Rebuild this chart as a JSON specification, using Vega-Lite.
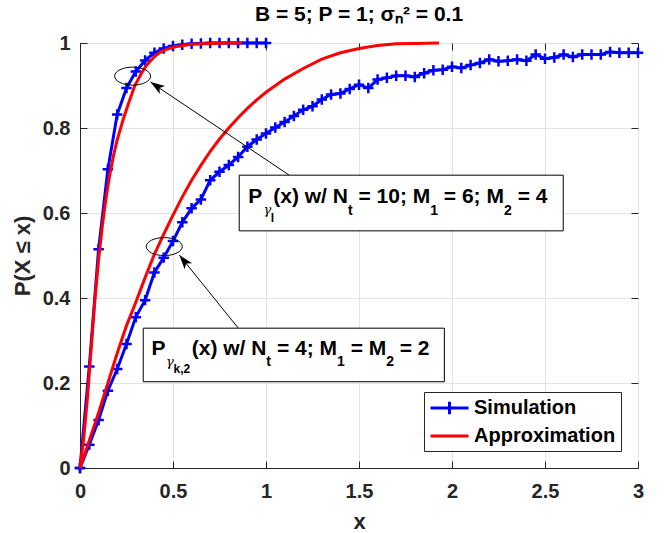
{
  "$schema": "https://vega.github.io/schema/vega-lite/v6.json",
  "width": 558,
  "height": 425,
  "autosize": {"type": "none"},
  "padding": {"left": 80, "top": 43, "right": 33, "bottom": 65},
  "background": "white",
  "config": {
    "font": "Liberation Sans",
    "view": {"stroke": "#262626", "strokeWidth": 1},
    "legend": {
      "orient": "bottom-right", "offset": 17, "title": null,
      "symbolSize": 361, "symbolStrokeWidth": 3,
      "labelFont": "Liberation Sans", "labelFontSize": 20, "labelFontWeight": "bold", "labelColor": "#000000",
      "labelLimit": 300, "padding": 5, "rowPadding": 4, "labelOffset": 23,
      "strokeColor": "#262626", "fillColor": "white"
    }
  },
  "title": {
    "text": "B = 5; P = 1; σₙ² = 0.1",
    "font": "Liberation Sans", "fontSize": 21, "fontWeight": "bold", "color": "#000000",
    "anchor": "middle", "offset": 8
  },
  "datasets": {
    "curves": [
      {"curve": "s1", "series": "Simulation", "x": 0, "y": 0},
      {"curve": "s1", "series": "Simulation", "x": 0.05, "y": 0.239},
      {"curve": "s1", "series": "Simulation", "x": 0.1, "y": 0.515},
      {"curve": "s1", "series": "Simulation", "x": 0.15, "y": 0.703},
      {"curve": "s1", "series": "Simulation", "x": 0.2, "y": 0.832},
      {"curve": "s1", "series": "Simulation", "x": 0.25, "y": 0.894},
      {"curve": "s1", "series": "Simulation", "x": 0.3, "y": 0.933},
      {"curve": "s1", "series": "Simulation", "x": 0.35, "y": 0.959},
      {"curve": "s1", "series": "Simulation", "x": 0.4, "y": 0.977},
      {"curve": "s1", "series": "Simulation", "x": 0.45, "y": 0.987},
      {"curve": "s1", "series": "Simulation", "x": 0.5, "y": 0.993},
      {"curve": "s1", "series": "Simulation", "x": 0.55, "y": 0.996},
      {"curve": "s1", "series": "Simulation", "x": 0.6, "y": 0.998},
      {"curve": "s1", "series": "Simulation", "x": 0.65, "y": 0.999},
      {"curve": "s1", "series": "Simulation", "x": 0.7, "y": 1},
      {"curve": "s1", "series": "Simulation", "x": 0.75, "y": 1},
      {"curve": "s1", "series": "Simulation", "x": 0.8, "y": 1},
      {"curve": "s1", "series": "Simulation", "x": 0.85, "y": 1},
      {"curve": "s1", "series": "Simulation", "x": 0.9, "y": 1},
      {"curve": "s1", "series": "Simulation", "x": 0.95, "y": 1},
      {"curve": "s1", "series": "Simulation", "x": 1.0, "y": 1},
      {"curve": "s2", "series": "Simulation", "x": 0, "y": 0},
      {"curve": "s2", "series": "Simulation", "x": 0.05, "y": 0.055},
      {"curve": "s2", "series": "Simulation", "x": 0.1, "y": 0.113},
      {"curve": "s2", "series": "Simulation", "x": 0.15, "y": 0.182},
      {"curve": "s2", "series": "Simulation", "x": 0.2, "y": 0.233},
      {"curve": "s2", "series": "Simulation", "x": 0.25, "y": 0.292},
      {"curve": "s2", "series": "Simulation", "x": 0.3, "y": 0.355},
      {"curve": "s2", "series": "Simulation", "x": 0.35, "y": 0.395},
      {"curve": "s2", "series": "Simulation", "x": 0.4, "y": 0.46},
      {"curve": "s2", "series": "Simulation", "x": 0.45, "y": 0.495},
      {"curve": "s2", "series": "Simulation", "x": 0.5, "y": 0.534},
      {"curve": "s2", "series": "Simulation", "x": 0.55, "y": 0.578},
      {"curve": "s2", "series": "Simulation", "x": 0.6, "y": 0.611},
      {"curve": "s2", "series": "Simulation", "x": 0.65, "y": 0.632},
      {"curve": "s2", "series": "Simulation", "x": 0.7, "y": 0.677},
      {"curve": "s2", "series": "Simulation", "x": 0.75, "y": 0.697},
      {"curve": "s2", "series": "Simulation", "x": 0.8, "y": 0.713},
      {"curve": "s2", "series": "Simulation", "x": 0.85, "y": 0.732},
      {"curve": "s2", "series": "Simulation", "x": 0.9, "y": 0.756},
      {"curve": "s2", "series": "Simulation", "x": 0.95, "y": 0.773},
      {"curve": "s2", "series": "Simulation", "x": 1.0, "y": 0.787},
      {"curve": "s2", "series": "Simulation", "x": 1.05, "y": 0.801},
      {"curve": "s2", "series": "Simulation", "x": 1.1, "y": 0.814},
      {"curve": "s2", "series": "Simulation", "x": 1.15, "y": 0.828},
      {"curve": "s2", "series": "Simulation", "x": 1.2, "y": 0.843},
      {"curve": "s2", "series": "Simulation", "x": 1.25, "y": 0.851},
      {"curve": "s2", "series": "Simulation", "x": 1.3, "y": 0.867},
      {"curve": "s2", "series": "Simulation", "x": 1.35, "y": 0.879},
      {"curve": "s2", "series": "Simulation", "x": 1.4, "y": 0.881},
      {"curve": "s2", "series": "Simulation", "x": 1.45, "y": 0.892},
      {"curve": "s2", "series": "Simulation", "x": 1.5, "y": 0.902},
      {"curve": "s2", "series": "Simulation", "x": 1.55, "y": 0.894},
      {"curve": "s2", "series": "Simulation", "x": 1.6, "y": 0.914},
      {"curve": "s2", "series": "Simulation", "x": 1.65, "y": 0.918},
      {"curve": "s2", "series": "Simulation", "x": 1.7, "y": 0.923},
      {"curve": "s2", "series": "Simulation", "x": 1.75, "y": 0.923},
      {"curve": "s2", "series": "Simulation", "x": 1.8, "y": 0.92},
      {"curve": "s2", "series": "Simulation", "x": 1.85, "y": 0.929},
      {"curve": "s2", "series": "Simulation", "x": 1.9, "y": 0.936},
      {"curve": "s2", "series": "Simulation", "x": 1.95, "y": 0.937},
      {"curve": "s2", "series": "Simulation", "x": 2.0, "y": 0.944},
      {"curve": "s2", "series": "Simulation", "x": 2.05, "y": 0.941},
      {"curve": "s2", "series": "Simulation", "x": 2.1, "y": 0.948},
      {"curve": "s2", "series": "Simulation", "x": 2.15, "y": 0.953},
      {"curve": "s2", "series": "Simulation", "x": 2.2, "y": 0.961},
      {"curve": "s2", "series": "Simulation", "x": 2.25, "y": 0.957},
      {"curve": "s2", "series": "Simulation", "x": 2.3, "y": 0.958},
      {"curve": "s2", "series": "Simulation", "x": 2.35, "y": 0.961},
      {"curve": "s2", "series": "Simulation", "x": 2.4, "y": 0.958},
      {"curve": "s2", "series": "Simulation", "x": 2.45, "y": 0.973},
      {"curve": "s2", "series": "Simulation", "x": 2.5, "y": 0.963},
      {"curve": "s2", "series": "Simulation", "x": 2.55, "y": 0.966},
      {"curve": "s2", "series": "Simulation", "x": 2.6, "y": 0.973},
      {"curve": "s2", "series": "Simulation", "x": 2.65, "y": 0.967},
      {"curve": "s2", "series": "Simulation", "x": 2.7, "y": 0.973},
      {"curve": "s2", "series": "Simulation", "x": 2.75, "y": 0.973},
      {"curve": "s2", "series": "Simulation", "x": 2.8, "y": 0.973},
      {"curve": "s2", "series": "Simulation", "x": 2.85, "y": 0.979},
      {"curve": "s2", "series": "Simulation", "x": 2.9, "y": 0.977},
      {"curve": "s2", "series": "Simulation", "x": 2.95, "y": 0.977},
      {"curve": "s2", "series": "Simulation", "x": 3.0, "y": 0.977},
      {"curve": "a1", "series": "Approximation", "x": 0, "y": 0},
      {"curve": "a1", "series": "Approximation", "x": 0.02, "y": 0.07},
      {"curve": "a1", "series": "Approximation", "x": 0.04, "y": 0.165},
      {"curve": "a1", "series": "Approximation", "x": 0.06, "y": 0.28},
      {"curve": "a1", "series": "Approximation", "x": 0.08, "y": 0.395},
      {"curve": "a1", "series": "Approximation", "x": 0.1, "y": 0.49},
      {"curve": "a1", "series": "Approximation", "x": 0.12, "y": 0.57},
      {"curve": "a1", "series": "Approximation", "x": 0.14, "y": 0.635},
      {"curve": "a1", "series": "Approximation", "x": 0.16, "y": 0.69},
      {"curve": "a1", "series": "Approximation", "x": 0.18, "y": 0.735},
      {"curve": "a1", "series": "Approximation", "x": 0.2, "y": 0.772},
      {"curve": "a1", "series": "Approximation", "x": 0.232, "y": 0.82},
      {"curve": "a1", "series": "Approximation", "x": 0.26, "y": 0.857},
      {"curve": "a1", "series": "Approximation", "x": 0.295, "y": 0.9},
      {"curve": "a1", "series": "Approximation", "x": 0.33, "y": 0.929},
      {"curve": "a1", "series": "Approximation", "x": 0.357, "y": 0.947},
      {"curve": "a1", "series": "Approximation", "x": 0.4, "y": 0.968},
      {"curve": "a1", "series": "Approximation", "x": 0.43, "y": 0.978},
      {"curve": "a1", "series": "Approximation", "x": 0.47, "y": 0.986},
      {"curve": "a1", "series": "Approximation", "x": 0.52, "y": 0.992},
      {"curve": "a1", "series": "Approximation", "x": 0.6, "y": 0.997},
      {"curve": "a1", "series": "Approximation", "x": 0.7, "y": 0.999},
      {"curve": "a1", "series": "Approximation", "x": 0.8, "y": 1},
      {"curve": "a1", "series": "Approximation", "x": 0.87, "y": 1},
      {"curve": "a2", "series": "Approximation", "x": 0, "y": 0},
      {"curve": "a2", "series": "Approximation", "x": 0.05, "y": 0.065},
      {"curve": "a2", "series": "Approximation", "x": 0.1, "y": 0.13},
      {"curve": "a2", "series": "Approximation", "x": 0.15, "y": 0.2},
      {"curve": "a2", "series": "Approximation", "x": 0.2, "y": 0.27},
      {"curve": "a2", "series": "Approximation", "x": 0.25, "y": 0.335},
      {"curve": "a2", "series": "Approximation", "x": 0.3, "y": 0.39},
      {"curve": "a2", "series": "Approximation", "x": 0.35, "y": 0.448},
      {"curve": "a2", "series": "Approximation", "x": 0.4, "y": 0.503},
      {"curve": "a2", "series": "Approximation", "x": 0.45, "y": 0.55},
      {"curve": "a2", "series": "Approximation", "x": 0.5, "y": 0.595},
      {"curve": "a2", "series": "Approximation", "x": 0.55, "y": 0.638},
      {"curve": "a2", "series": "Approximation", "x": 0.6, "y": 0.677},
      {"curve": "a2", "series": "Approximation", "x": 0.65, "y": 0.712},
      {"curve": "a2", "series": "Approximation", "x": 0.7, "y": 0.745},
      {"curve": "a2", "series": "Approximation", "x": 0.75, "y": 0.774},
      {"curve": "a2", "series": "Approximation", "x": 0.8, "y": 0.8},
      {"curve": "a2", "series": "Approximation", "x": 0.85, "y": 0.824},
      {"curve": "a2", "series": "Approximation", "x": 0.9, "y": 0.846},
      {"curve": "a2", "series": "Approximation", "x": 0.95, "y": 0.866},
      {"curve": "a2", "series": "Approximation", "x": 1.0, "y": 0.884},
      {"curve": "a2", "series": "Approximation", "x": 1.1, "y": 0.915},
      {"curve": "a2", "series": "Approximation", "x": 1.2, "y": 0.94},
      {"curve": "a2", "series": "Approximation", "x": 1.3, "y": 0.962},
      {"curve": "a2", "series": "Approximation", "x": 1.4, "y": 0.977},
      {"curve": "a2", "series": "Approximation", "x": 1.5, "y": 0.987},
      {"curve": "a2", "series": "Approximation", "x": 1.6, "y": 0.994},
      {"curve": "a2", "series": "Approximation", "x": 1.7, "y": 0.998},
      {"curve": "a2", "series": "Approximation", "x": 1.8, "y": 0.999},
      {"curve": "a2", "series": "Approximation", "x": 1.93, "y": 1}
    ],
    "ellipses": [
      {"x": 0.283, "y": 0.922},
      {"x": 0.453, "y": 0.521}
    ],
    "arrows": [
      {"x": 1.125, "y": 0.689, "x2": 0.379, "y2": 0.908, "angle": 303.8},
      {"x": 0.851, "y": 0.329, "x2": 0.534, "y2": 0.501, "angle": 321.2}
    ],
    "boxes": [
      {"x": 0.856, "x2": 2.598, "y": 0.689, "y2": 0.558},
      {"x": 0.34, "x2": 1.959, "y": 0.329, "y2": 0.203}
    ],
    "labels": [
      {"level": "main", "text": "P", "x": 0.905, "y": 0.623},
      {"level": "gamma", "text": "γ", "x": 0.987, "y": 0.597},
      {"level": "subsub", "text": "l", "x": 1.025, "y": 0.58},
      {"level": "main", "text": "(x) w/ N", "x": 1.039, "y": 0.623},
      {"level": "sub", "text": "t", "x": 1.441, "y": 0.596},
      {"level": "main", "text": "= 10; M", "x": 1.497, "y": 0.623},
      {"level": "sub", "text": "1", "x": 1.883, "y": 0.596},
      {"level": "main", "text": "= 6; M", "x": 1.956, "y": 0.623},
      {"level": "sub", "text": "2", "x": 2.28, "y": 0.596},
      {"level": "main", "text": "= 4", "x": 2.353, "y": 0.623},
      {"level": "main", "text": "P", "x": 0.385, "y": 0.266},
      {"level": "gamma", "text": "γ", "x": 0.462, "y": 0.24},
      {"level": "subsub", "text": "k,2", "x": 0.503, "y": 0.223},
      {"level": "main", "text": "(x) w/ N", "x": 0.601, "y": 0.266},
      {"level": "sub", "text": "t", "x": 1.002, "y": 0.239},
      {"level": "main", "text": "= 4; M", "x": 1.059, "y": 0.266},
      {"level": "sub", "text": "1", "x": 1.382, "y": 0.239},
      {"level": "main", "text": "= M", "x": 1.455, "y": 0.266},
      {"level": "sub", "text": "2", "x": 1.646, "y": 0.239},
      {"level": "main", "text": "= 2", "x": 1.719, "y": 0.266}
    ]
  },
  "resolve": {"axis": {"x": "independent", "y": "independent"}},
  "layer": [
    {
      "data": {"name": "curves"},
      "transform": [{"filter": "datum.series === 'Simulation'"}],
      "mark": {"type": "line", "strokeWidth": 3},
      "encoding": {
        "x": {
          "field": "x", "type": "quantitative",
          "scale": {"domain": [0, 3], "nice": false, "zero": false},
          "axis": {
            "values": [0, 0.5, 1, 1.5, 2, 2.5, 3], "format": "~g", "title": "x",
            "grid": true, "gridColor": "#e3e3e3", "gridWidth": 1,
            "domainColor": "#262626", "tickColor": "#262626", "tickSize": -7,
            "labelFont": "Liberation Sans", "labelFontSize": 20, "labelFontWeight": "bold", "labelColor": "#262626",
            "labelPadding": 20, "labelFlush": false, "labelOverlap": false, "labelBound": false,
            "titleFont": "Liberation Sans", "titleFontSize": 22, "titleFontWeight": "bold", "titleColor": "#262626",
            "titlePadding": 10
          }
        },
        "y": {
          "field": "y", "type": "quantitative",
          "scale": {"domain": [0, 1], "nice": false, "zero": false},
          "axis": {
            "values": [0, 0.2, 0.4, 0.6, 0.8, 1], "format": "~g", "title": "P(X ≤ x)",
            "grid": true, "gridColor": "#e3e3e3", "gridWidth": 1,
            "domainColor": "#262626", "tickColor": "#262626", "tickSize": -7,
            "labelFont": "Liberation Sans", "labelFontSize": 20, "labelFontWeight": "bold", "labelColor": "#262626",
            "labelPadding": 17, "labelFlush": false, "labelOverlap": false, "labelBound": false,
            "titleFont": "Liberation Sans", "titleFontSize": 22, "titleFontWeight": "bold", "titleColor": "#262626",
            "titlePadding": 8
          }
        },
        "color": {
          "field": "series", "type": "nominal",
          "scale": {"domain": ["Simulation", "Approximation"], "range": ["#0000ff", "#ff0000"]},
          "legend": {
            "encode": {
              "symbols": {
                "update": {
                  "shape": {"signal": "datum.value === 'Simulation' ? 'M-1,0L3,0M1,-0.65L1,0.65' : 'M-1,0L3,0'"},
                  "strokeWidth": {"value": 3}
                }
              }
            }
          }
        },
        "detail": {"field": "curve"}
      }
    },
    {
      "data": {"name": "curves"},
      "transform": [{"filter": "datum.series === 'Simulation'"}],
      "mark": {"type": "point", "shape": "M-1,0L1,0M0,-1L0,1", "size": 110, "filled": false, "color": "#0000ff", "strokeWidth": 2.5, "opacity": 1},
      "encoding": {
        "x": {"field": "x", "type": "quantitative", "axis": null},
        "y": {"field": "y", "type": "quantitative", "axis": null}
      }
    },
    {
      "data": {"name": "curves"},
      "transform": [{"filter": "datum.series === 'Approximation'"}],
      "mark": {"type": "line", "strokeWidth": 3},
      "encoding": {
        "x": {
          "field": "x", "type": "quantitative",
          "axis": {"orient": "top", "labels": false, "grid": false, "domain": false, "title": null,
                   "values": [0, 0.5, 1, 1.5, 2, 2.5, 3], "tickSize": -7, "tickColor": "#262626"}
        },
        "y": {
          "field": "y", "type": "quantitative",
          "axis": {"orient": "right", "labels": false, "grid": false, "domain": false, "title": null,
                   "values": [0, 0.2, 0.4, 0.6, 0.8, 1], "tickSize": -7, "tickColor": "#262626"}
        },
        "color": {"field": "series", "type": "nominal"},
        "detail": {"field": "curve"}
      }
    },
    {
      "data": {"name": "ellipses"},
      "mark": {"type": "point", "shape": "M-1,0A1,0.5 0 1,0 1,0A1,0.5 0 1,0 -1,0Z", "size": 1296, "filled": false, "color": "#000000", "strokeWidth": 1, "opacity": 1},
      "encoding": {
        "x": {"field": "x", "type": "quantitative", "axis": null},
        "y": {"field": "y", "type": "quantitative", "axis": null}
      }
    },
    {
      "data": {"name": "arrows"},
      "mark": {"type": "rule", "color": "#000000", "strokeWidth": 1},
      "encoding": {
        "x": {"field": "x", "type": "quantitative", "axis": null},
        "y": {"field": "y", "type": "quantitative", "axis": null},
        "x2": {"field": "x2"},
        "y2": {"field": "y2"}
      }
    },
    {
      "data": {"name": "arrows"},
      "mark": {"type": "point", "shape": "M0,0L0.6,1.8L0,1.35L-0.6,1.8Z", "size": 256, "filled": true, "color": "#000000", "opacity": 1, "strokeWidth": 0},
      "encoding": {
        "x": {"field": "x2", "type": "quantitative", "axis": null},
        "y": {"field": "y2", "type": "quantitative", "axis": null},
        "angle": {"field": "angle", "type": "quantitative", "scale": null}
      }
    },
    {
      "data": {"name": "boxes"},
      "mark": {"type": "rect", "fill": "white", "stroke": "#000000", "strokeWidth": 1},
      "encoding": {
        "x": {"field": "x", "type": "quantitative", "axis": null},
        "x2": {"field": "x2"},
        "y": {"field": "y", "type": "quantitative", "axis": null},
        "y2": {"field": "y2"}
      }
    },
    {
      "data": {"name": "labels"},
      "transform": [{"filter": "datum.level === 'main'"}],
      "mark": {"type": "text", "font": "Liberation Sans", "fontSize": 21, "fontWeight": "bold", "color": "#000000", "align": "left", "baseline": "alphabetic"},
      "encoding": {
        "x": {"field": "x", "type": "quantitative", "axis": null},
        "y": {"field": "y", "type": "quantitative", "axis": null},
        "text": {"field": "text"}
      }
    },
    {
      "data": {"name": "labels"},
      "transform": [{"filter": "datum.level === 'sub'"}],
      "mark": {"type": "text", "font": "Liberation Sans", "fontSize": 14, "fontWeight": "bold", "color": "#000000", "align": "left", "baseline": "alphabetic"},
      "encoding": {
        "x": {"field": "x", "type": "quantitative", "axis": null},
        "y": {"field": "y", "type": "quantitative", "axis": null},
        "text": {"field": "text"}
      }
    },
    {
      "data": {"name": "labels"},
      "transform": [{"filter": "datum.level === 'gamma'"}],
      "mark": {"type": "text", "font": "DejaVu Serif", "fontSize": 13, "fontStyle": "italic", "fontWeight": "normal", "color": "#000000", "align": "left", "baseline": "alphabetic"},
      "encoding": {
        "x": {"field": "x", "type": "quantitative", "axis": null},
        "y": {"field": "y", "type": "quantitative", "axis": null},
        "text": {"field": "text"}
      }
    },
    {
      "data": {"name": "labels"},
      "transform": [{"filter": "datum.level === 'subsub'"}],
      "mark": {"type": "text", "font": "Liberation Sans", "fontSize": 12, "fontWeight": "bold", "color": "#000000", "align": "left", "baseline": "alphabetic"},
      "encoding": {
        "x": {"field": "x", "type": "quantitative", "axis": null},
        "y": {"field": "y", "type": "quantitative", "axis": null},
        "text": {"field": "text"}
      }
    }
  ]
}
